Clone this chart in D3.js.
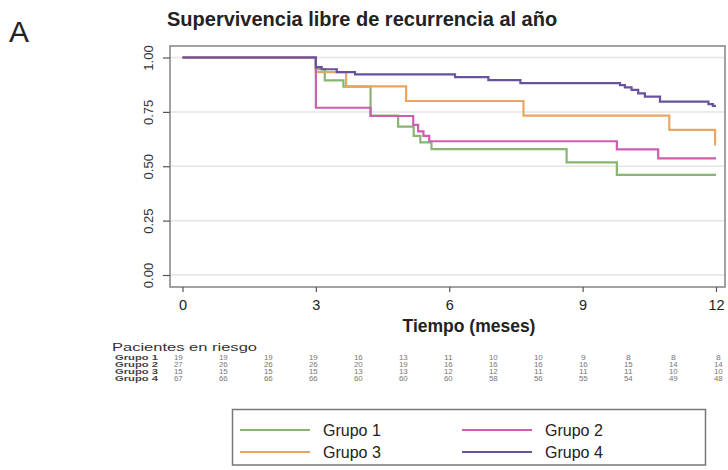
<!DOCTYPE html>
<html>
<head>
<meta charset="utf-8">
<script src="https://cdn.jsdelivr.net/npm/d3@7"></script>
<style>
  html, body { margin: 0; padding: 0; background: #fff; }
  svg { display: block; font-family: "Liberation Sans", Arial, sans-serif; }
</style>
</head>
<body>
<svg id="chart" width="728" height="470"></svg>
<script>
// ---- data ----
const groups = ["Grupo 1", "Grupo 2", "Grupo 3", "Grupo 4"];
const colors = ["#89b573", "#cc5fb0", "#e8a660", "#68529c"];
// KM step points: [time (months), survival after time]
const grupo1 = [[0,1],[3.0,0.947],[3.2,0.895],[3.62,0.866],[4.23,0.733],[4.85,0.682],[5.2,0.64],[5.35,0.61],[5.6,0.579],[8.64,0.518],[9.77,0.46],[12,0.46]];
const grupo2 = [[0,1],[3.0,0.769],[4.23,0.731],[5.19,0.69],[5.3,0.66],[5.42,0.64],[5.55,0.615],[9.77,0.578],[10.7,0.536],[12,0.536]];
const grupo3 = [[0,1],[3.0,0.933],[3.68,0.867],[5.03,0.8],[7.67,0.733],[10.95,0.667],[11.98,0.6],[12,0.6]];
const grupo4 = [[0,1],[3.0,0.956],[3.13,0.946],[3.47,0.933],[3.88,0.922],[6.13,0.91],[6.88,0.896],[7.6,0.882],[9.84,0.873],[9.95,0.863],[10.1,0.851],[10.25,0.835],[10.4,0.82],[10.74,0.797],[11.83,0.786],[11.93,0.778],[12,0.778]];
const seriesData = [grupo1, grupo2, grupo3, grupo4];
const xTicks = [0, 3, 6, 9, 12];
const yTicks = [0, 0.25, 0.5, 0.75, 1];
const riskTimes = [0,1,2,3,4,5,6,7,8,9,10,11,12];
const risk1 = [19,19,19,19,16,13,11,10,10,9,8,8,8];
const risk2 = [27,26,26,26,20,19,16,16,16,16,15,14,14];
const risk3 = [15,15,15,15,13,13,12,12,11,11,11,10,10];
const risk4 = [67,66,66,66,60,60,60,58,56,55,54,49,48];
const riskRows = [risk1, risk2, risk3, risk4];

const svg = d3.select("#chart");

// panel letter + title
svg.append("text").attr("x", 9).attr("y", 42).attr("font-size", 30).attr("fill", "#222").text("A");
svg.append("text").attr("x", 167).attr("y", 26).attr("font-size", 20).attr("font-weight", "bold").attr("fill", "#222")
  .text("Supervivencia libre de recurrencia al año");

// plot frame
const frame = {l: 170, t: 46, r: 725, b: 287};
const x = d3.scaleLinear().domain([0, 12]).range([182.5, 716]);
const y = d3.scaleLinear().domain([0, 1]).range([275, 57.5]);

// gridlines
svg.append("g").selectAll("line").data(yTicks).join("line")
  .attr("x1", frame.l).attr("x2", frame.r)
  .attr("y1", d => y(d)).attr("y2", d => y(d))
  .attr("stroke", "#e4e4e4").attr("stroke-width", 1.5);

// curves
const line = d3.line().x(d => x(d[0])).y(d => y(d[1])).curve(d3.curveStepAfter);
const order = [0, 2, 1, 3];
svg.append("g").selectAll("path").data(order).join("path")
  .attr("d", i => line(seriesData[i]))
  .attr("fill", "none").attr("stroke", i => colors[i]).attr("stroke-width", 2.2);

// frame rectangle
svg.append("rect").attr("x", frame.l).attr("y", frame.t)
  .attr("width", frame.r - frame.l).attr("height", frame.b - frame.t)
  .attr("fill", "none").attr("stroke", "#8a8a8a").attr("stroke-width", 1.6);

// y axis
const yAxis = d3.axisLeft(y).tickValues(yTicks).tickFormat(d3.format(".2f")).tickSize(7).tickPadding(0);
const gy = svg.append("g").attr("transform", `translate(${frame.l},0)`).call(yAxis);
gy.select(".domain").remove();
gy.selectAll(".tick line").attr("stroke", "#555").attr("stroke-width", 1.2);
gy.selectAll(".tick text").attr("font-size", 13).attr("fill", "#333")
  .attr("transform", "rotate(-90)").attr("x", 0).attr("y", -17).attr("dy", 0).attr("text-anchor", "middle");

// x axis
const xAxis = d3.axisBottom(x).tickValues(xTicks).tickFormat(d3.format("d")).tickSize(5).tickPadding(8);
const gx = svg.append("g").attr("transform", `translate(0,${frame.b})`).call(xAxis);
gx.select(".domain").remove();
gx.selectAll(".tick line").attr("stroke", "#555").attr("stroke-width", 1.2);
gx.selectAll(".tick text").attr("font-size", 14.5).attr("fill", "#222");

svg.append("text").attr("x", 469).attr("y", 332).attr("text-anchor", "middle")
  .attr("font-size", 17.5).attr("font-weight", "bold").attr("fill", "#222").text("Tiempo (meses)");

// risk table
const xr = d3.scaleLinear().domain([0, 12]).range([178.3, 718.3]);
svg.append("text").attr("x", 112).attr("y", 351).attr("font-size", 11.5).attr("fill", "#333")
  .attr("textLength", 145).attr("lengthAdjust", "spacingAndGlyphs").text("Pacientes en riesgo");
const rowY = [360, 367, 374, 381];
groups.forEach((g, i) => {
  svg.append("text").attr("x", 115).attr("y", rowY[i]).attr("font-size", 6.3).attr("font-weight", "bold")
    .attr("fill", "#444").attr("textLength", 43).attr("lengthAdjust", "spacingAndGlyphs").text(g);
  svg.append("g").selectAll("text").data(riskRows[i]).join("text")
    .attr("x", (d, j) => xr(riskTimes[j])).attr("y", rowY[i])
    .attr("text-anchor", "middle").attr("font-size", 6.3).attr("fill", "#777")
    .attr("textLength", d => d >= 10 ? 8.8 : 4.8).attr("lengthAdjust", "spacingAndGlyphs").text(d => d);
});

// legend
svg.append("rect").attr("x", 232.5).attr("y", 409.5).attr("width", 473).attr("height", 55.5)
  .attr("fill", "#fff").attr("stroke", "#777").attr("stroke-width", 1.5);
const legPos = [[240, 430], [462, 430], [240, 452], [462, 452]];
groups.forEach((g, i) => {
  const [lx, ly] = legPos[i];
  svg.append("line").attr("x1", lx).attr("x2", lx + 70).attr("y1", ly).attr("y2", ly)
    .attr("stroke", colors[i]).attr("stroke-width", 2.2);
  svg.append("text").attr("x", lx + 83).attr("y", ly + 5.5).attr("font-size", 16).attr("fill", "#222").text(g);
});
</script>
</body>
</html>
